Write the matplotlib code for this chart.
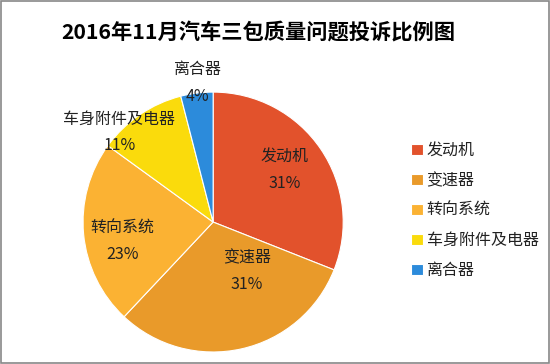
import matplotlib
matplotlib.use('Agg')
import matplotlib.pyplot as plt
from matplotlib.patches import Rectangle

plt.rcParams['font.family'] = ['Noto Sans CJK SC', 'DejaVu Sans']

# complaint share by component, Nov 2016
parts = ['发动机', '变速器', '转向系统', '车身附件及电器', '离合器']
shares = [31, 31, 23, 11, 4]
colors = ['#E2522C', '#E99A2A', '#FBB233', '#FADB0C', '#2C8BDB']
# where excel put the labels (pie units, radius = 1)
label_pos = [(0.55, 0.40), (0.26, -0.38), (-0.70, -0.15), (-0.72, 0.69), (-0.12, 1.07)]

fig = plt.figure(figsize=(5.5, 3.64), dpi=100)
ax = fig.add_axes([0.151, 0.033, 0.473, 0.714])
wedges, _ = ax.pie(shares, colors=colors, startangle=90, counterclock=False,
                   wedgeprops={'linewidth': 0.8, 'edgecolor': 'white'})
ax.set_xlim(-1, 1)
ax.set_ylim(-1, 1)
ax.set_aspect('auto')

for name, val, (x, y) in zip(parts, shares, label_pos):
    ax.text(x, y, '{}\n{}%'.format(name, val), ha='center', va='center',
            fontsize=11.5, color='#222222', linespacing=1.75)

fig.text(0.47, 0.91, '2016年11月汽车三包质量问题投诉比例图', ha='center', va='center',
         fontsize=15.3, fontweight='bold', color='black')

leg = fig.legend(wedges, parts, loc='upper left', bbox_to_anchor=(0.748, 0.61),
                 frameon=False, fontsize=11.5, handlelength=0.7, handleheight=0.7,
                 handletextpad=0.25, labelspacing=0.82, borderpad=0, borderaxespad=0)
for t in leg.get_texts():
    t.set_color('#222222')

fig.patches.append(Rectangle((0.002, 0.003), 0.996, 0.994, transform=fig.transFigure,
                             fill=False, edgecolor='#888888', linewidth=1.2))

fig.savefig('out.png', dpi=100)
